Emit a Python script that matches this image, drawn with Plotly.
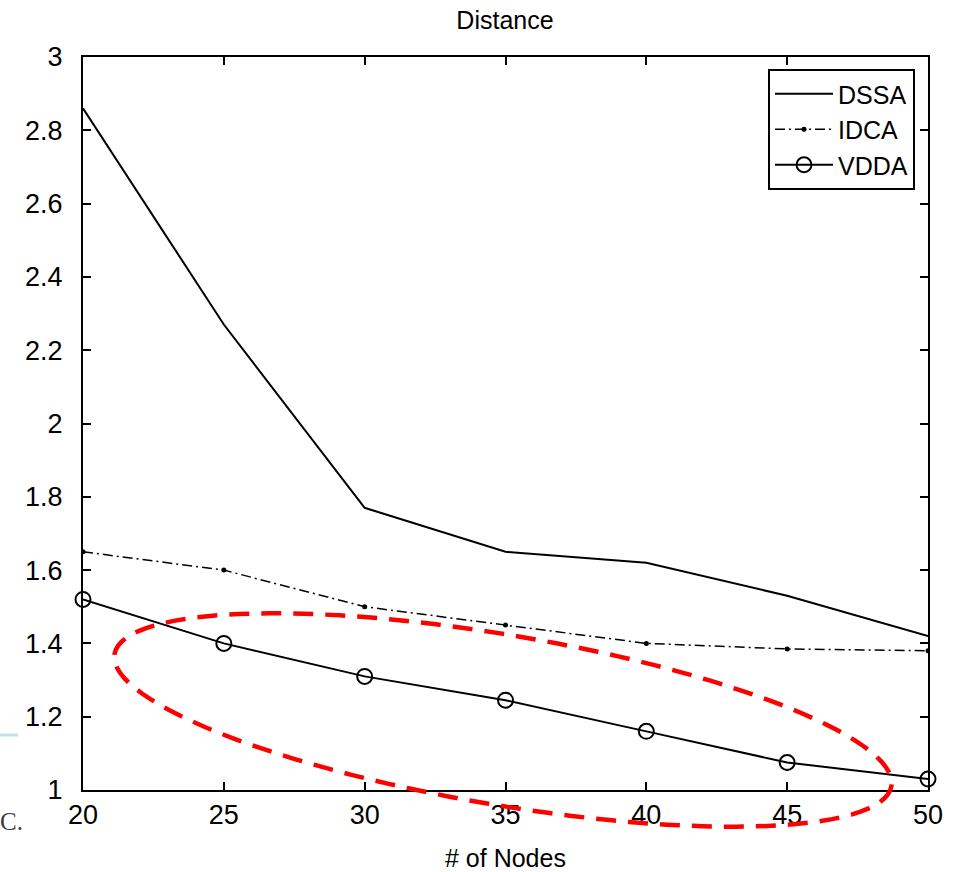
import numpy as np
import plotly.graph_objects as go

# ---- data ----
nodes = [20, 25, 30, 35, 40, 45, 50]
dssa = [2.86, 2.27, 1.77, 1.65, 1.62, 1.53, 1.42]
idca = [1.65, 1.60, 1.50, 1.45, 1.40, 1.385, 1.38]
vdda = [1.52, 1.40, 1.31, 1.245, 1.16, 1.075, 1.03]
series_names = ["DSSA", "IDCA", "VDDA"]
y_ticks = [1, 1.2, 1.4, 1.6, 1.8, 2, 2.2, 2.4, 2.6, 2.8, 3]
x_ticks = [20, 25, 30, 35, 40, 45, 50]

W, H = 959, 872
L, R, T, B = 83, 31, 57, 82
PW, PH = W - L - R, H - T - B

FONT = "Liberation Sans, Arial, sans-serif"

fig = go.Figure()
fig.add_trace(go.Scatter(x=nodes, y=dssa, name=series_names[0], mode="lines",
                         line=dict(color="black", width=2)))
fig.add_trace(go.Scatter(x=nodes, y=idca, name=series_names[1], mode="lines+markers",
                         line=dict(color="black", width=1.5, dash="10px,4px,2px,4px"),
                         marker=dict(symbol="circle", size=5, color="black")))
fig.add_trace(go.Scatter(x=nodes, y=vdda, name=series_names[2], mode="lines+markers",
                         line=dict(color="black", width=2),
                         marker=dict(symbol="circle-open", size=15, color="black",
                                     line=dict(width=2, color="black")),
                         cliponaxis=False))

# red dashed highlight ellipse (pixel-space geometry converted to paper coords)
cx, cy, a, b, th = 503, 720, 394, 85, np.deg2rad(9.65)
t = np.linspace(0, 2 * np.pi, 121)
px = cx + a * np.cos(t) * np.cos(th) - b * np.sin(t) * np.sin(th)
py = cy + a * np.cos(t) * np.sin(th) + b * np.sin(t) * np.cos(th)
X = (px - L) / PW
Y = (H - B - py) / PH
path = "M " + " L ".join(f"{xx:.5f},{yy:.5f}" for xx, yy in zip(X, Y)) + " Z"

shapes = [
    dict(type="path", path=path, xref="paper", yref="paper",
         line=dict(color="#ff0000", width=4.5, dash="20px,12px"), layer="above"),
    dict(type="line", xref="paper", yref="paper",
         x0=(0 - L) / PW, x1=(18 - L) / PW, y0=(H - B - 735) / PH, y1=(H - B - 735) / PH,
         line=dict(color="#bfe3e6", width=3)),
]

annotations = [
    dict(text="C.", xref="paper", yref="paper", x=(-2 - L) / PW, y=(H - B - 821) / PH,
         xanchor="left", yanchor="middle", showarrow=False,
         font=dict(family="Liberation Serif, serif", size=25, color="#3a3a3a")),
    dict(text="# of Nodes", xref="paper", yref="paper", x=(505 - L) / PW, y=(H - B - 858) / PH,
         xanchor="center", yanchor="middle", showarrow=False,
         font=dict(family=FONT, size=25, color="black")),
]

axis_common = dict(showline=True, linecolor="black", linewidth=2, mirror="ticks",
                   ticks="inside", ticklen=8, tickwidth=1.5, tickcolor="black",
                   showgrid=False, zeroline=False, automargin=False,
                   tickfont=dict(family=FONT, size=27, color="black"))

fig.update_layout(
    width=W, height=H,
    margin=dict(l=L, r=R, t=T, b=B, autoexpand=False),
    paper_bgcolor="white", plot_bgcolor="white",
    font=dict(family=FONT, color="black"),
    title=dict(text="Distance", x=(505) / W, xanchor="center", y=1 - 20 / H, yanchor="middle",
               font=dict(family=FONT, size=25, color="black")),
    xaxis=dict(range=[20, 50], tickvals=x_ticks, ticklabelstandoff=0, **axis_common),
    yaxis=dict(range=[1, 3], tickvals=y_ticks, ticklabelstandoff=13, **axis_common),
    legend=dict(x=(915 - L) / PW, xanchor="right", y=(H - B - 69) / PH, yanchor="top",
                bgcolor="white", bordercolor="black", borderwidth=2,
                font=dict(family=FONT, size=25, color="black"),
                itemwidth=58, tracegroupgap=0),
    shapes=shapes,
    annotations=annotations,
    showlegend=True,
)

fig.write_html("out.html", config={"displayModeBar": False},
               post_script="document.body.style.margin='0';document.body.style.padding='0';")
